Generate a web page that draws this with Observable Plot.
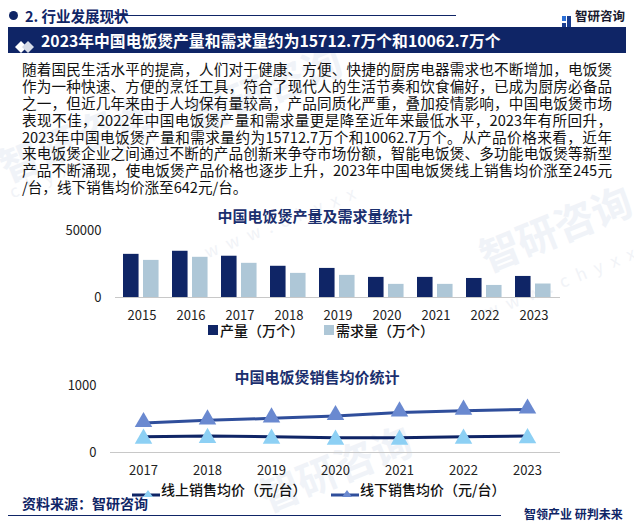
<!DOCTYPE html>
<html>
<head>
<meta charset="utf-8">
<script src="https://cdn.jsdelivr.net/npm/d3@7"></script>
<script src="https://cdn.jsdelivr.net/npm/@observablehq/plot@0.6"></script>
<style>
  html, body { margin: 0; padding: 0; }
  body { width: 634px; height: 525px; position: relative; overflow: hidden; background: #fff;
         font-family: "Noto Sans CJK SC", "Noto Sans", sans-serif; }
  .abs { position: absolute; }
  .wm { position: absolute; color: #f0f3f8; font-weight: 700; white-space: nowrap; transform-origin: left top; z-index: 0; }
  .wm2 { position: absolute; color: #f1f3f7; white-space: nowrap; transform-origin: left top; letter-spacing: 9px; font-size: 17px; z-index: 0; }
  .para { left: 22px; top: 61px; width: 590px; font-size: 14.6px; line-height: 16.9px; color: #111; z-index: 2; }
  .para div { text-align: justify; text-align-last: justify; white-space: nowrap; height: 16.9px; }
  .para div.last { text-align-last: left; }
  .ttl { font-weight: 700; color: #1b2f6e; font-size: 15px; z-index: 2; }
  .leg { font-size: 14px; color: #111; z-index: 2; white-space: nowrap; font-weight: 500; }
  svg { overflow: visible; }
</style>
</head>
<body>
<script>
// ---------- data ----------
const barYears = ["2015","2016","2017","2018","2019","2020","2021","2022","2023"];
const production = [32200, 34500, 30800, 23300, 21700, 15000, 15000, 14200, 15712.7];
const demand     = [27700, 30000, 25500, 18000, 16500,  9800,  9800,  9000, 10062.7];
const barYTicks = [0, 50000];

const priceYears = ["2017","2018","2019","2020","2021","2022","2023"];
const onlinePrice  = [236, 248, 236, 222, 222, 236, 245];
const offlinePrice = [440, 480, 510, 545, 598, 624, 642];
const priceYTicks = [0, 1000];

const navy = "#0f2566";
const lightBar = "#aec7d7";
const onlineLine = "#0f2566", onlineMark = "#8dd0f4";
const offlineLine = "#2f4e9b", offlineMark = "#6a89d0";

// ---------- static page parts ----------
const body = document.body;
function add(html) { body.insertAdjacentHTML("beforeend", html); }

// watermarks (faint)
add(`<div class="wm" style="left:-10px;top:140px;font-size:40px;transform:rotate(-22deg)">智研咨询</div>`);
add(`<div class="wm2" style="left:5px;top:180px;transform:rotate(-22deg)">chyxx.com</div>`);
add(`<div class="wm" style="left:250px;top:470px;font-size:40px;transform:rotate(-22deg)">智研咨询</div>`);
add(`<div class="wm" style="left:470px;top:230px;font-size:40px;transform:rotate(-22deg)">智研咨询</div>`);
add(`<div class="wm2" style="left:480px;top:300px;transform:rotate(-22deg)">www.chyxx</div>`);
add(`<div class="wm" style="left:180px;top:90px;font-size:40px;transform:rotate(-22deg)">智研咨询</div>`);
add(`<div class="wm2" style="left:200px;top:240px;transform:rotate(-22deg)">www.chyxx</div>`);

// header
add(`<div class="abs" style="left:9px;top:11px;width:9px;height:9px;border-radius:50%;background:${navy};z-index:2"></div>`);
add(`<div class="abs" style="left:25px;top:5px;font-size:14.5px;font-weight:700;color:${navy};z-index:2">2. 行业发展现状</div>`);
add(`<div class="abs" style="left:111px;top:15px;width:345px;height:1px;background:${navy};z-index:2"></div>`);
add(`<div class="abs" style="left:562px;top:9px;width:9px;height:12px;z-index:2">
  <svg width="9" height="12"><rect x="0" y="0" width="4" height="5" fill="#2b6fd6"/><rect x="5" y="0" width="4" height="12" fill="#1a3d8f"/><rect x="0" y="7" width="4" height="5" fill="#1a3d8f"/></svg></div>`);
add(`<div class="abs" style="left:575px;top:6px;font-size:12.5px;font-weight:700;color:#1a1a2e;z-index:2">智研咨询</div>`);

// banner
add(`<div class="abs" style="left:8px;top:27px;width:618px;height:26px;background:${navy};z-index:2"></div>`);
add(`<div class="abs" style="left:15px;top:34px;z-index:3"><svg width="20" height="12">
  <polygon points="0,6 6,0 12,6 6,12" fill="#ffffff"/><polygon points="7,6 13,0 19,6 13,12" fill="#d8dde8"/></svg></div>`);
add(`<div class="abs" style="left:41px;top:29px;font-size:15.8px;font-weight:700;color:#fff;z-index:3;white-space:nowrap">2023年中国电饭煲产量和需求量约为15712.7万个和10062.7万个</div>`);

// paragraph
const paraLines = [
  "随着国民生活水平的提高，人们对于健康、方便、快捷的厨房电器需求也不断增加，电饭煲",
  "作为一种快速、方便的烹饪工具，符合了现代人的生活节奏和饮食偏好，已成为厨房必备品",
  "之一，但近几年来由于人均保有量较高，产品同质化严重，叠加疫情影响，中国电饭煲市场",
  "表现不佳，2022年中国电饭煲产量和需求量更是降至近年来最低水平，2023年有所回升，",
  "2023年中国电饭煲产量和需求量约为15712.7万个和10062.7万个。从产品价格来看，近年",
  "来电饭煲企业之间通过不断的产品创新来争夺市场份额，智能电饭煲、多功能电饭煲等新型",
  "产品不断涌现，使电饭煲产品价格也逐步上升，2023年中国电饭煲线上销售均价涨至245元",
  "/台，线下销售均价涨至642元/台。"
];
add(`<div class="abs para">${paraLines.map((l,i)=>`<div class="${i===paraLines.length-1?'last':''}">${l}</div>`).join("")}</div>`);

// chart titles
add(`<div class="abs ttl" style="left:0;width:634px;text-align:center;top:205px;padding-right:4px;box-sizing:border-box">中国电饭煲产量及需求量统计</div>`);
add(`<div class="abs ttl" style="left:0;width:634px;text-align:center;top:366px;">中国电饭煲销售均价统计</div>`);

// bar legend
add(`<div class="abs" style="left:208px;top:325px;width:10px;height:10px;background:${navy};z-index:2"></div>`);
add(`<div class="abs leg" style="left:220px;top:320px;">产量（万个）</div>`);
add(`<div class="abs" style="left:324px;top:325px;width:10px;height:10px;background:${lightBar};z-index:2"></div>`);
add(`<div class="abs leg" style="left:336px;top:320px;">需求量（万个）</div>`);

// line legend
function lineKey(x, lc, mc) {
  return `<div class="abs" style="left:${x}px;top:482px;z-index:2"><svg width="30" height="14">
    <line x1="0" y1="8" x2="28" y2="8" stroke="${lc}" stroke-width="3"/>
    <polygon points="16,3 21,10 11,10" fill="${mc}"/></svg></div>`;
}
add(lineKey(132, onlineLine, onlineMark));
add(`<div class="abs leg" style="left:161px;top:479px;">线上销售均价（元/台）</div>`);
add(lineKey(331, offlineLine, offlineMark));
add(`<div class="abs leg" style="left:360px;top:479px;">线下销售均价（元/台）</div>`);

// footer
add(`<div class="abs" style="left:22px;top:493px;font-size:14px;font-weight:700;color:${navy};z-index:2">资料来源：智研咨询</div>`);
add(`<div class="abs" style="left:8px;top:515px;width:493px;height:1px;background:${navy};z-index:2"></div>`);
add(`<div class="abs" style="left:524px;top:505px;font-size:12px;font-weight:700;color:${navy};z-index:2">智领产业 研判未来</div>`);

// ---------- bar chart ----------
const barData = barYears.map((y, i) => ({year: y, production: production[i], demand: demand[i]}));
const bandW = (560 - 115) / barYears.length;

const barChart = Plot.plot({
  width: 634,
  height: 105,
  marginTop: 10,
  marginBottom: 28,
  marginLeft: 115,
  marginRight: 74,
  style: {fontFamily: "'Noto Sans CJK SC', 'Noto Sans', sans-serif", fontSize: "13px", color: "#222", background: "transparent"},
  x: {domain: barYears, padding: 0, tickSize: 0, tickPadding: 13, label: null},
  y: {domain: [0, 50000], ticks: barYTicks, tickSize: 0, tickPadding: 14, label: null, tickFormat: d => String(d)},
  marks: [
    Plot.barY(barData, {x: "year", y: "production", fill: navy, insetLeft: 6, insetRight: bandW - 22}),
    Plot.barY(barData, {x: "year", y: "demand", fill: lightBar, insetLeft: 26, insetRight: bandW - 42}),
    Plot.ruleY([0], {stroke: "#c8c8c8", strokeWidth: 1.2})
  ]
});
barChart.style.position = "absolute";
barChart.style.left = "0px";
barChart.style.top = "220px";
barChart.style.zIndex = 2;
body.appendChild(barChart);

// ---------- line chart ----------
const priceData = priceYears.map((y, i) => ({year: y, online: onlinePrice[i], offline: offlinePrice[i]}));

const lineChart = Plot.plot({
  width: 634,
  height: 100,
  marginTop: 5,
  marginBottom: 28,
  marginLeft: 110,
  marginRight: 74,
  style: {fontFamily: "'Noto Sans CJK SC', 'Noto Sans', sans-serif", fontSize: "13px", color: "#222", background: "transparent"},
  x: {type: "point", domain: priceYears, padding: 0.5, tickSize: 0, tickPadding: 13, label: null},
  y: {domain: [0, 1000], ticks: priceYTicks, tickSize: 0, tickPadding: 14, label: null, tickFormat: d => String(d)},
  marks: [
    Plot.ruleY([0], {stroke: "#c8c8c8", strokeWidth: 1.2}),
    Plot.line(priceData, {x: "year", y: "offline", stroke: offlineLine, strokeWidth: 3}),
    Plot.line(priceData, {x: "year", y: "online", stroke: onlineLine, strokeWidth: 3}),
    Plot.dot(priceData, {x: "year", y: "offline", symbol: "triangle", r: 6.5, fill: offlineMark, stroke: "none", dy: -1}),
    Plot.dot(priceData, {x: "year", y: "online", symbol: "triangle", r: 6.5, fill: onlineMark, stroke: "none", dy: 2})
  ]
});
lineChart.style.position = "absolute";
lineChart.style.left = "0px";
lineChart.style.top = "380px";
lineChart.style.zIndex = 2;
body.appendChild(lineChart);
</script>
</body>
</html>
